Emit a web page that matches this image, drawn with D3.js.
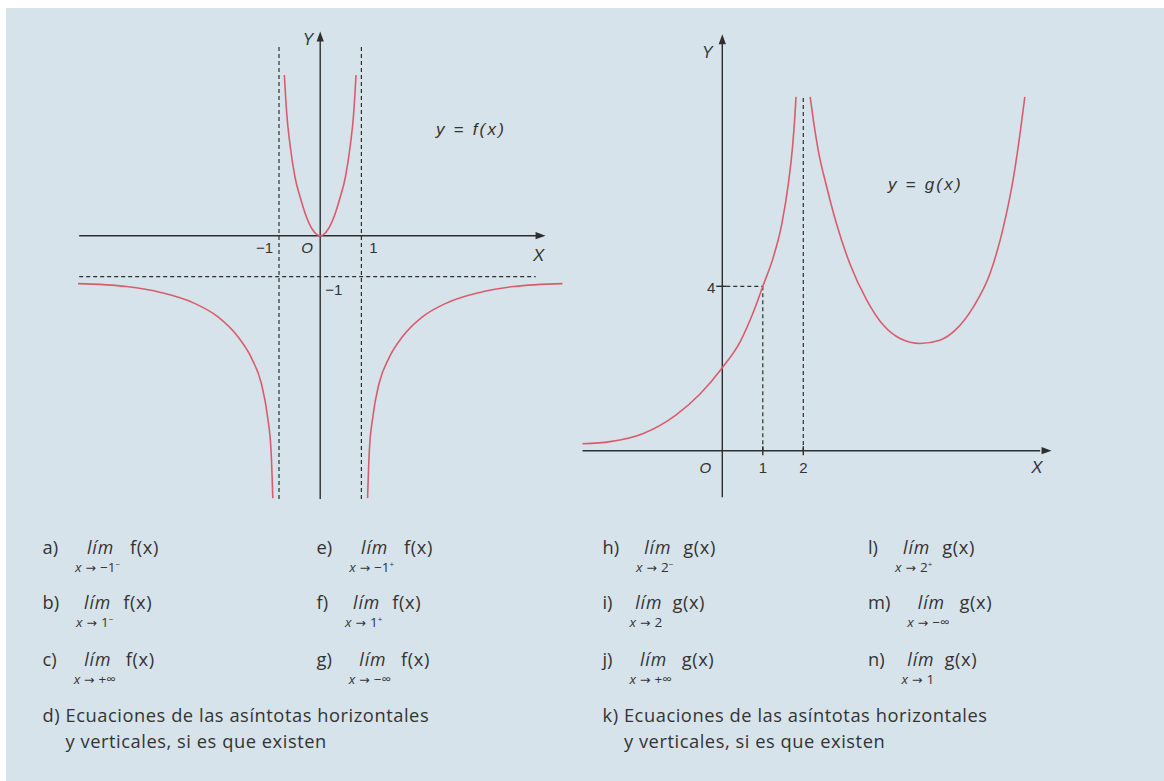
<!DOCTYPE html>
<html>
<head>
<meta charset="utf-8">
<script src="https://cdn.jsdelivr.net/npm/d3@7"></script>
<style>
  html, body { margin: 0; padding: 0; background: #ffffff; }
  svg { display: block; }
</style>
</head>
<body>
<svg id="sheet" width="1164" height="781"></svg>
<script>
// ---- y = f(x): three branches (vertical asymptotes x = -1, x = 1; horizontal y = -1)
const fMidX   = [-0.87, -0.81, -0.73, -0.61, -0.48, -0.36, -0.20, -0.07, 0, 0.07, 0.20, 0.36, 0.48, 0.61, 0.73, 0.81, 0.87];
const fMidY   = [3.92, 2.95, 2.20, 1.42, 0.92, 0.53, 0.17, 0.02, 0, 0.02, 0.17, 0.53, 0.92, 1.42, 2.20, 2.95, 3.92];
const fLeftX  = [-5.88, -4.70, -3.85, -3.05, -2.48, -2.00, -1.67, -1.43, -1.28, -1.19, -1.15];
const fLeftY  = [-1.17, -1.24, -1.39, -1.65, -1.98, -2.46, -2.98, -3.60, -4.40, -5.30, -6.40];
const fRightX = [1.15, 1.19, 1.28, 1.43, 1.67, 2.00, 2.48, 3.05, 3.85, 4.70, 5.88];
const fRightY = [-6.40, -5.30, -4.40, -3.60, -2.98, -2.46, -1.98, -1.65, -1.39, -1.24, -1.17];

// ---- y = g(x): two branches (vertical asymptote x = 2), g(1) = 4
const gLeftX  = [-3.45, -2.77, -1.95, -1.13, -0.55, 0, 0.44, 0.77, 1, 1.26, 1.47, 1.63, 1.74, 1.79, 1.82];
const gLeftY  = [0.17, 0.22, 0.42, 0.88, 1.38, 2.02, 2.65, 3.38, 4, 4.71, 5.52, 6.49, 7.46, 8.11, 8.61];
const gRightX = [2.17, 2.25, 2.37, 2.58, 2.82, 3.15, 3.57, 3.98, 4.39, 4.88, 5.37, 5.79, 6.20, 6.61, 6.94, 7.19, 7.35, 7.47];
const gRightY = [8.61, 8.03, 7.30, 6.41, 5.52, 4.55, 3.66, 3.05, 2.73, 2.61, 2.69, 2.97, 3.50, 4.31, 5.44, 6.65, 7.70, 8.61];

// ---- tick labels
const fXTicks = [-1, 1];
const fXTickLabels = ["\u22121", "1"];
const fYTicks = [-1];
const fYTickLabels = ["\u22121"];
const gXTicks = [1, 2];
const gXTickLabels = ["1", "2"];
const gYTicks = [4];
const gYTickLabels = ["4"];

// ---- exercise items: tag, limit point, side, function
const fItems = ["a)", "b)", "c)", "e)", "f)", "g)"];
const fTo    = ["\u22121", "1", "+\u221E", "\u22121", "1", "\u2212\u221E"];
const fSides = ["\u2212", "\u2212", "", "+", "+", ""];
const gItems = ["h)", "i)", "j)", "l)", "m)", "n)"];
const gTo    = ["2", "2", "+\u221E", "2", "\u2212\u221E", "1"];
const gSides = ["\u2212", "", "", "+", "", ""];
const fNote = ["d) Ecuaciones de las asíntotas horizontales", "y verticales, si es que existen"];
const gNote = ["k) Ecuaciones de las asíntotas horizontales", "y verticales, si es que existen"];

const W = 1164, H = 781;
const BG = "#d7e3ea", INK = "#2e2e2e", CURVE = "#da5c6c";
const svg = d3.select("#sheet");

svg.append("rect").attr("x", 6).attr("y", 8).attr("width", W - 6).attr("height", H - 8).attr("fill", BG);

const line = d3.line().curve(d3.curveMonotoneX);

function arrowRight(g, x, y) {
  g.append("path").attr("d", `M${x},${y} L${x - 10},${y - 3.6} L${x - 10},${y + 3.6} Z`).attr("fill", INK);
}
function arrowUp(g, x, y) {
  g.append("path").attr("d", `M${x},${y} L${x - 3.6},${y + 10} L${x + 3.6},${y + 10} Z`).attr("fill", INK);
}
function seg(g, x1, y1, x2, y2, dashed) {
  const l = g.append("line").attr("x1", x1).attr("y1", y1).attr("x2", x2).attr("y2", y2)
    .attr("stroke", INK).attr("stroke-width", dashed ? 1.2 : 1.4);
  if (dashed) l.attr("stroke-dasharray", "4,3");
  return l;
}
function label(g, x, y, txt, opts = {}) {
  return g.append("text").attr("x", x).attr("y", y).text(txt)
    .attr("font-family", "'Liberation Sans', Arial, sans-serif")
    .attr("font-size", opts.size || 15)
    .attr("font-style", opts.italic ? "italic" : "normal")
    .attr("text-anchor", opts.anchor || "start")
    .attr("fill", "#333")
    .attr("letter-spacing", opts.ls || 0);
}
function branch(g, xs, ys, sx, sy) {
  g.append("path").attr("d", line(xs.map((v, i) => [sx(v), sy(ys[i])])))
    .attr("fill", "none").attr("stroke", CURVE).attr("stroke-width", 1.6);
}

// ================= f(x) panel =================
const fx = d3.scaleLinear().domain([-1, 1]).range([279, 361.4]);
const fy = d3.scaleLinear().domain([-1, 0]).range([276.7, 235.7]);
const gf = svg.append("g");

// asymptotes
fXTicks.forEach(t => seg(gf, fx(t), fy(4.6), fx(t), fy(-6.42), true));
fYTicks.forEach(t => seg(gf, fx(-5.85), fy(t), fx(5.23), fy(t), true));
// axes
seg(gf, fx(-5.85), fy(0), fx(5.3), fy(0));
arrowRight(gf, fx(5.47), fy(0));
seg(gf, fx(0), fy(-6.42), fx(0), fy(4.8));
arrowUp(gf, fx(0), fy(4.98));

branch(gf, fMidX, fMidY, fx, fy);
branch(gf, fLeftX, fLeftY, fx, fy);
branch(gf, fRightX, fRightY, fx, fy);

label(gf, fx(fXTicks[0]) - 6, fy(0) + 17.5, fXTickLabels[0], { anchor: "end" });
label(gf, fx(fXTicks[1]) + 12, fy(0) + 17.5, fXTickLabels[1], { anchor: "middle" });
label(gf, fx(0) - 13, fy(0) + 17.5, "O", { anchor: "middle", italic: true });
label(gf, fx(0) + 5, fy(fYTicks[0]) + 18.5, fYTickLabels[0]);
label(gf, fx(0) - 12, 45, "Y", { anchor: "middle", italic: true, size: 16 });
label(gf, fx(5.3), 261, "X", { anchor: "middle", italic: true, size: 17 });
label(gf, 436, 135, "y  =  f(x)", { italic: true, size: 17, ls: 2.2 });

// ================= g(x) panel =================
const gx = d3.scaleLinear().domain([0, 2]).range([722.3, 803.3]);
const gy = d3.scaleLinear().domain([0, 4]).range([450.7, 286.3]);
const gg = svg.append("g");

seg(gg, gx(2), gy(8.58), gx(2), gy(0), true);
seg(gg, gx(1), gy(4), gx(1), gy(0), true);
seg(gg, gx(0) + 4, gy(4), gx(1), gy(4), true);
seg(gg, gx(0) - 6, gy(4), gx(0) + 4, gy(4));
gXTicks.forEach(t => seg(gg, gx(t), gy(0) - 4.5, gx(t), gy(0) + 4.5));

seg(gg, gx(-3.45), gy(0), gx(7.85), gy(0));
arrowRight(gg, gx(8.13), gy(0));
seg(gg, gx(0), gy(-1.13), gx(0), gy(9.9));
arrowUp(gg, gx(0), gy(10.13));

branch(gg, gLeftX, gLeftY, gx, gy);
branch(gg, gRightX, gRightY, gx, gy);

gXTicks.forEach((t, i) => label(gg, gx(t), gy(0) + 22.5, gXTickLabels[i], { anchor: "middle" }));
label(gg, gx(0) - 17, gy(0) + 22.5, "O", { anchor: "middle", italic: true });
label(gg, gx(0) - 7, gy(gYTicks[0]) + 7, gYTickLabels[0], { anchor: "end" });
label(gg, gx(0) - 15, 58, "Y", { anchor: "middle", italic: true, size: 16 });
label(gg, 1037, 473, "X", { anchor: "middle", italic: true, size: 17 });
label(gg, 888, 190, "y  =  g(x)", { italic: true, size: 17, ls: 2.2 });

// ================= exercise list =================
const TXT = "'Open Sans', 'Noto Sans', sans-serif";
const FS = 18.3;
const rowY = [554, 609, 666];
const txt = svg.append("g").attr("fill", "#333").attr("font-family", TXT);

function limitItem(x, y, tag, to, side, fn) {
  const t = txt.append("text").attr("x", x).attr("y", y).attr("font-size", FS).text(tag);
  const tagEnd = x + t.node().getComputedTextLength();
  const subX = tagEnd + 17;
  const s = txt.append("text").attr("x", subX).attr("y", y + 17.5).attr("font-size", 13.5);
  s.append("tspan").attr("font-style", "italic").text("x");
  s.append("tspan").attr("font-family", "'DejaVu Sans', sans-serif").attr("font-size", 12.5).text(" \u2192 ");
  s.append("tspan").text(to);
  if (side) s.append("tspan").attr("dy", -5).attr("font-size", 8).text(side);
  const subW = s.node().getComputedTextLength();
  const limC = subX + subW / 2 + 3;
  const lim = txt.append("text").attr("x", limC).attr("y", y).attr("font-size", FS - 0.5)
    .attr("font-style", "italic").attr("text-anchor", "middle").attr("letter-spacing", 0.9).text("lím");
  const limEnd = limC + lim.node().getComputedTextLength() / 2;
  txt.append("text").attr("x", Math.max(subX + subW, limEnd) + 10).attr("y", y)
    .attr("font-size", FS).attr("letter-spacing", 0.6).text(fn);
}

function itemBlock(items, tos, sides, fn, colX) {
  items.forEach((tag, i) => {
    const col = Math.floor(i / 3), row = i % 3;
    limitItem(colX[col], rowY[row], tag, tos[i], sides[i], fn);
  });
}
itemBlock(fItems, fTo, fSides, "f(x)", [42.5, 316.5]);
itemBlock(gItems, gTo, gSides, "g(x)", [602.5, 868]);

function note(lines, x) {
  const first = txt.append("text").attr("x", x).attr("y", 722).attr("font-size", FS)
    .attr("letter-spacing", 0.55).attr("xml:space", "preserve");
  const tag = lines[0].slice(0, 3);
  first.append("tspan").text(tag);
  first.append("tspan").text(lines[0].slice(3));
  const indent = first.select("tspan").node().getComputedTextLength();
  txt.append("text").attr("x", x + indent).attr("y", 748).attr("font-size", FS)
    .attr("letter-spacing", 0.55).text(lines[1]);
}
note(fNote, 42.5);
note(gNote, 602.5);
</script>
</body>
</html>
